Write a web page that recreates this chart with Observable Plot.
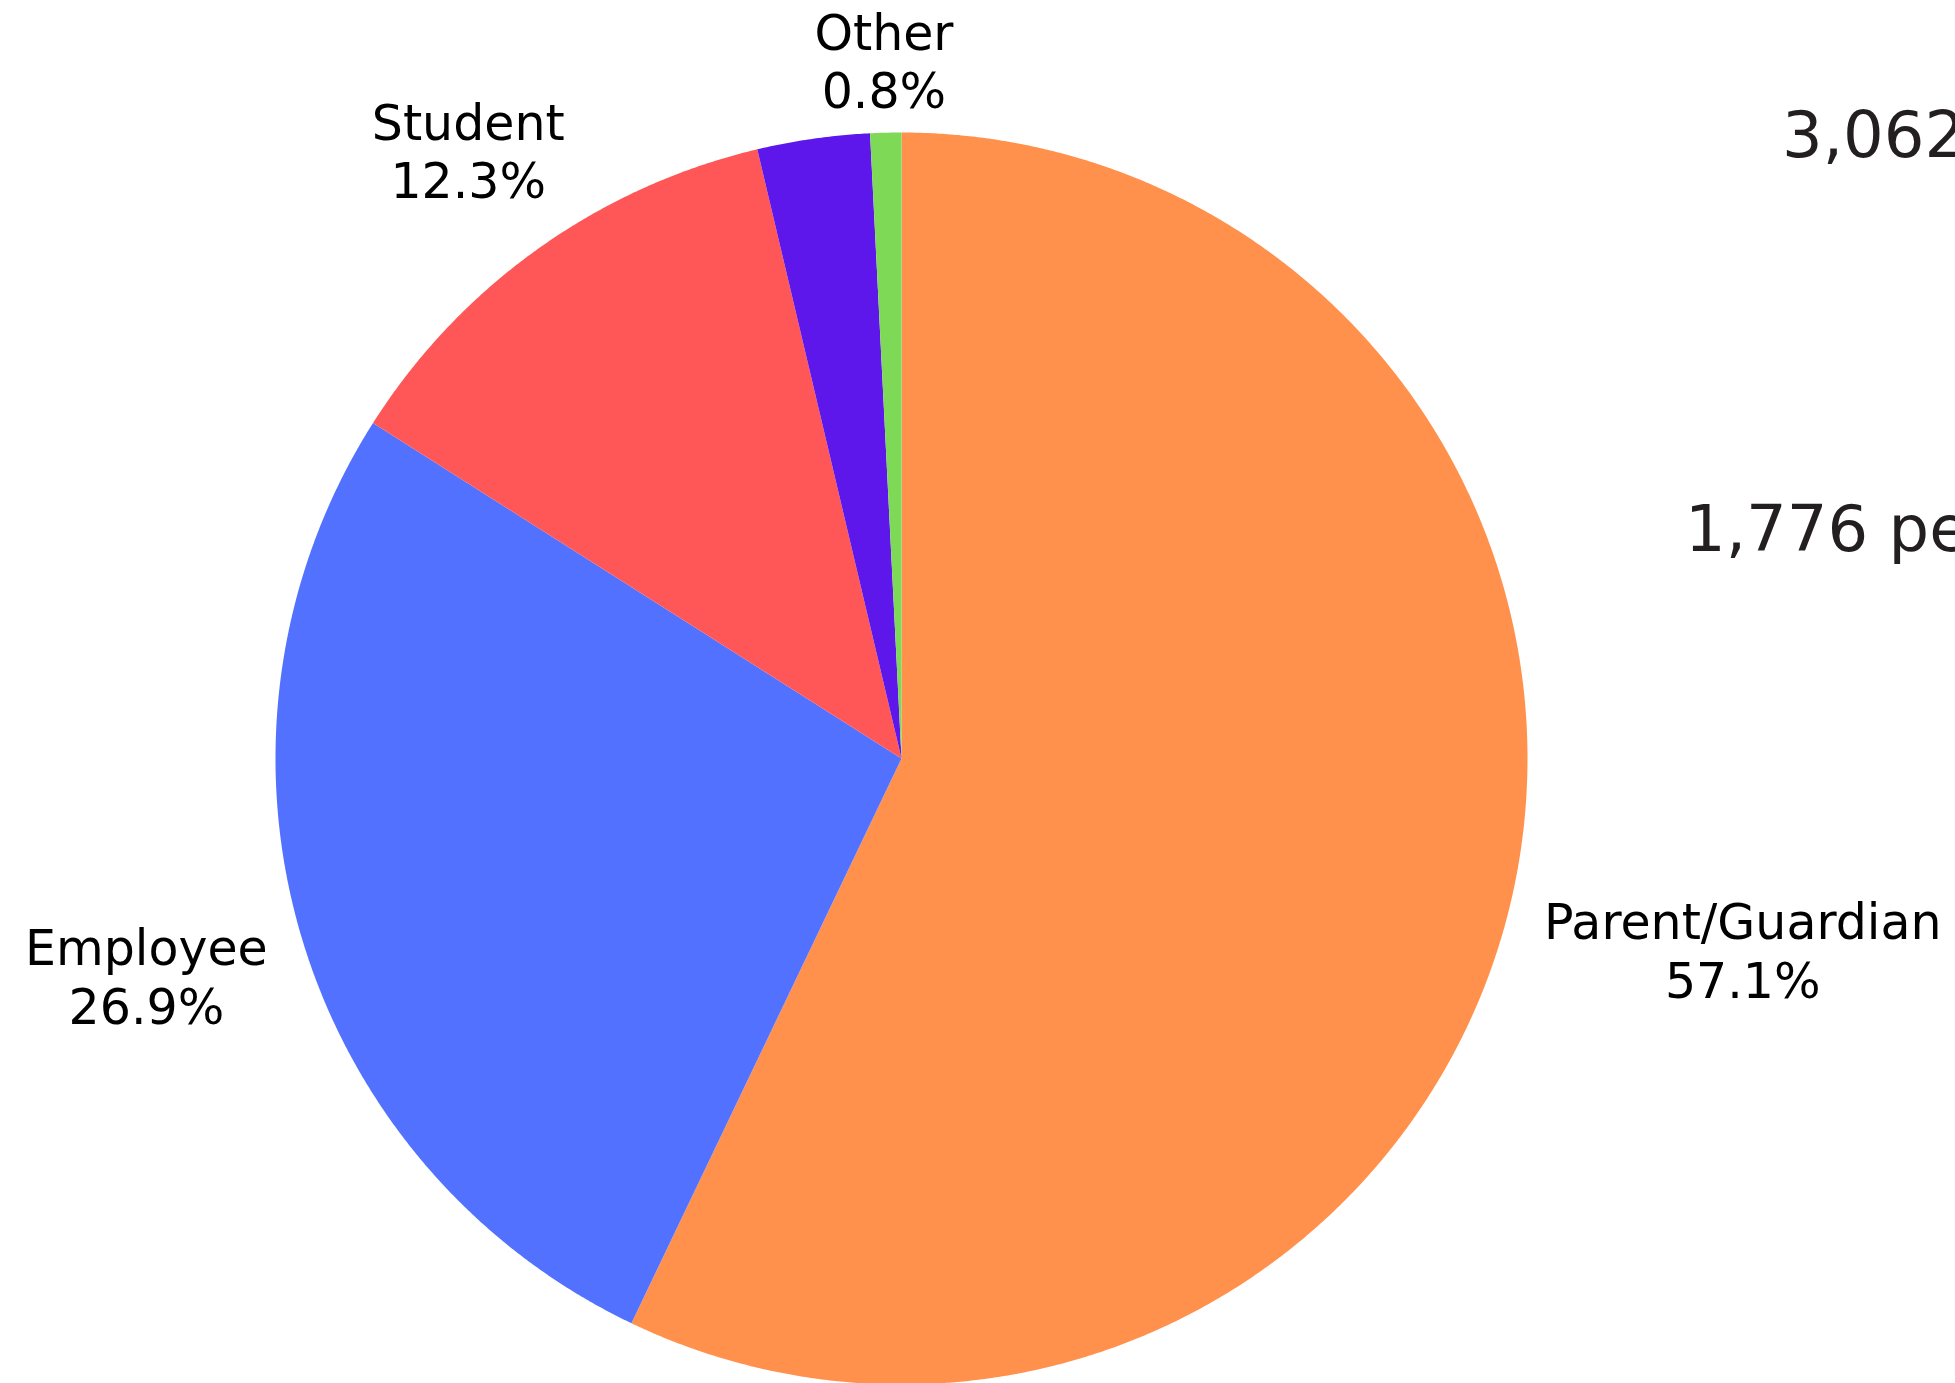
<!DOCTYPE html>
<html>
<head>
<meta charset="utf-8">
<script src="https://cdn.jsdelivr.net/npm/d3@7"></script>
<script src="https://cdn.jsdelivr.net/npm/@observablehq/plot@0.6"></script>
<style>
  html, body { margin: 0; padding: 0; background: #fff; overflow: hidden; width: 1955px; height: 1383px; }
  #wrap { position: relative; width: 1955px; height: 1383px; overflow: hidden; }
  #wrap svg { display: block; }
  .stat { position: absolute; font-family: "DejaVu Sans", sans-serif; font-size: 64px; color: #231f20; white-space: nowrap; line-height: 1; }
</style>
</head>
<body>
<div id="wrap"></div>
<script>
// ---- data ----
const categories = ["Parent/Guardian", "Employee", "Student", "Community Member", "Other"];
const shares = [57.1, 26.9, 12.3, 2.9, 0.8];
const showLabel = [true, true, true, false, true];
const colors = ["#FF914D", "#5271FF", "#FF5757", "#5E17EB", "#7ED957"];
const statTexts = ["3,062", "1,776 people"];

// ---- layout (not data) ----
const layout = {
  cx: 901, cy: 758, r: 626,
  labelRadius: {"Parent/Guardian": 1.378, "Employee": 1.255, "Student": 1.193, "Other": 1.116},
  stats: [{left: 1782, top: 103}, {left: 1685, top: 497}]
};

const table = categories.map((c, i) => ({category: c, share: shares[i], show: showLabel[i]}));
const arcs = d3.pie().sort(null).value(d => d.share)(table);

// polygon points for each slice (unit-circle coordinates)
const points = [];
for (const a of arcs) {
  const c = a.data.category;
  points.push({category: c, x: 0, y: 0});
  const n = Math.max(2, Math.ceil((a.endAngle - a.startAngle) / (Math.PI / 720)));
  for (let k = 0; k <= n; k++) {
    const t = a.startAngle + (a.endAngle - a.startAngle) * k / n;
    points.push({category: c, x: Math.sin(t), y: Math.cos(t)});
  }
  points.push({category: c, x: 0, y: 0});
}

const labels = arcs.filter(a => a.data.show).map(a => {
  const m = (a.startAngle + a.endAngle) / 2;
  const k = layout.labelRadius[a.data.category];
  return {x: k * Math.sin(m), y: k * Math.cos(m), text: `${a.data.category}\n${a.data.share.toFixed(1)}%`};
});

const chart = Plot.plot({
  width: 1955,
  height: 1383,
  margin: 0,
  x: {domain: [-1, 1], range: [layout.cx - layout.r, layout.cx + layout.r], axis: null},
  y: {domain: [-1, 1], range: [layout.cy + layout.r, layout.cy - layout.r], axis: null},
  color: {domain: categories, range: colors},
  style: {fontFamily: "DejaVu Sans, sans-serif", background: "white", overflow: "hidden"},
  marks: [
    Plot.line(points, {x: "x", y: "y", z: "category", fill: "category", stroke: null, curve: "linear"}),
    Plot.text(labels, {x: "x", y: "y", text: "text", fontSize: 49, lineHeight: 1.2, fill: "#000", textAnchor: "middle", lineAnchor: "middle"})
  ]
});

const wrap = document.getElementById("wrap");
wrap.appendChild(chart);
statTexts.forEach((s, i) => {
  const d = document.createElement("div");
  d.className = "stat";
  d.textContent = s;
  d.style.left = layout.stats[i].left + "px";
  d.style.top = layout.stats[i].top + "px";
  wrap.appendChild(d);
});
</script>
</body>
</html>
